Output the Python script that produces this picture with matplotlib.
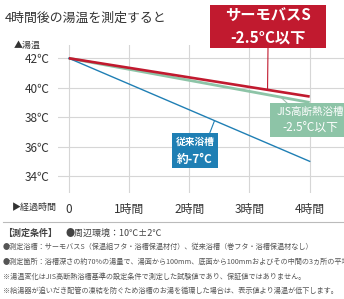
import numpy as np
import matplotlib.pyplot as plt
from matplotlib.patches import Rectangle
from matplotlib.lines import Line2D

plt.rcParams['font.family'] = ['Noto Sans CJK JP', 'DejaVu Sans']

# data
hours = [0, 4]
hour_labels = ['0', '1時間', '2時間', '3時間', '4時間']
temp_ticks = [42, 40, 38, 36, 34]
thermobath = [42.0, 39.4]   # サーモバスS
jis_bath = [42.0, 39.0]     # JIS高断熱浴槽
old_bath = [42.0, 35.0]     # 従来浴槽

RED = '#c11a2f'
GREEN = '#8dc4a7'
BLUE = '#1f7fb4'
TXT = '#333333'

W, H = 344, 299
fig = plt.figure(figsize=(W / 100, H / 100), dpi=100)


def fx(px):
    return px / W


def fy(py):
    return 1 - py / H


ax = fig.add_axes([fx(58), fy(193), fx(344) - fx(58), fy(45) - fy(193)])
ax.set_xlim(-0.18, 4.57)
ax.set_ylim(32.85, 42.9)
for s in ax.spines.values():
    s.set_visible(False)

ax.set_xticks(range(5))
ax.set_xticklabels(hour_labels)
ax.set_yticks(temp_ticks)
ax.set_yticklabels([f'{t}℃' for t in temp_ticks])
ax.tick_params(length=0, labelsize=8.5, labelcolor=TXT)
ax.tick_params(axis='x', pad=7)
ax.tick_params(axis='y', pad=6)
ax.grid(True, color='#d6d6d6', lw=0.8)
ax.set_axisbelow(True)

ax.plot(hours, jis_bath, color=GREEN, lw=2.0, solid_capstyle='butt', zorder=3)
ax.plot(hours, thermobath, color=RED, lw=1.9, solid_capstyle='butt', zorder=4)
ax.plot(hours, old_bath, color=BLUE, lw=1.0, zorder=3)

# title and axis captions
fig.text(fx(5), fy(18), '4時間後の湯温を測定すると', fontsize=9.3, color=TXT,
         ha='left', va='center')
fig.text(fx(14), fy(45), '▲湯温', fontsize=6.5, color=TXT, ha='left', va='center')
fig.text(fx(12), fy(207), '▶経過時間', fontsize=6.5, color=TXT, ha='left', va='center')


def label_box(x0, y0, x1, y1, color, lines, sizes, weight='bold'):
    fig.add_artist(Rectangle((fx(x0), fy(y1)), fx(x1) - fx(x0), fy(y0) - fy(y1),
                             transform=fig.transFigure, facecolor=color,
                             edgecolor='none', zorder=5))
    n = len(lines)
    step = (y1 - y0) / n
    for i, (t, s) in enumerate(zip(lines, sizes)):
        fig.text(fx((x0 + x1) / 2), fy(y0 + step * (i + 0.5)), t, fontsize=s,
                 color='white', weight=weight, ha='center', va='center', zorder=6)


def pointer(series, hx, px_end, py_end, color, lw):
    yv = np.interp(hx, hours, series)
    ax.annotate('', xy=(hx, yv), xycoords='data',
                xytext=(px_end, H - py_end), textcoords='figure pixels',
                arrowprops=dict(arrowstyle='-', color=color, lw=lw,
                                shrinkA=0, shrinkB=0), zorder=4)


pointer(thermobath, 3.30, 268, 48, RED, 0.8)
pointer(old_bath, 2.42, 209, 135, BLUE, 0.8)
pointer(jis_bath, 3.52, 288, 104, '#9fbfae', 0.8)

label_box(210, 5, 326, 48, RED, ['サーモバスS', '-2.5°C以下'], [11.0, 11.0])
label_box(172, 133, 218, 168, BLUE, ['従来浴槽', '約-7°C'], [7.0, 8.5])
label_box(270, 103, 350, 137, GREEN, ['JIS高断熱浴槽', '-2.5°C以下'], [7.6, 8.5],
          weight='normal')

# separator and notes
fig.add_artist(Line2D([fx(3), fx(344)], [fy(222), fy(222)], color='#bbbbbb',
                      lw=0.8, transform=fig.transFigure))
fig.text(fx(3), fy(233), '【測定条件】', fontsize=6.5, weight='bold',
         color='#444444', ha='left', va='center')
fig.text(fx(66), fy(233), '●周辺環境：10℃±2℃', fontsize=6.5,
         color='#444444', ha='left', va='center')
notes = [
    '●測定浴槽：サーモバスS（保温組フタ・浴槽保温材付）、従来浴槽（巻フタ・浴槽保温材なし）',
    '●測定箇所：浴槽深さの約70%の湯量で、湯面から100mm、底面から100mmおよびその中間の3ヵ所の平均値',
    '※湯温変化はJIS高断熱浴槽基準の設定条件で測定した試験値であり、保証値ではありません。',
    '※給湯器が追いだき配管の凍結を防ぐため浴槽のお湯を循環した場合は、表示値より湯温が低下します。',
]
for i, t in enumerate(notes):
    fig.text(fx(3), fy(247 + 14.7 * i), t, fontsize=5.15, color='#555555',
             ha='left', va='center')

fig.savefig('out.png', dpi=100)
